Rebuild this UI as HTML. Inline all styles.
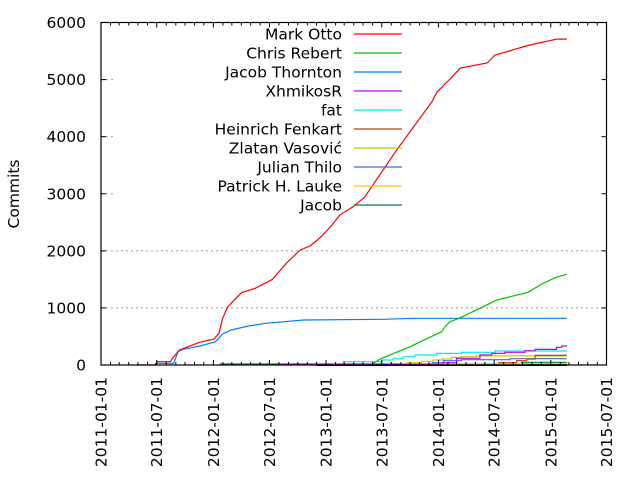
<!DOCTYPE html>
<html><head><meta charset="utf-8"><style>
html,body{margin:0;padding:0;background:#fff;}
svg{display:block;font-family:"DejaVu Sans","Liberation Sans",sans-serif;}
</style></head><body>
<svg id="chart" width="640" height="480" viewBox="0 0 640 480" xmlns="http://www.w3.org/2000/svg"></svg>
<script>
const yTicks = [0,1000,2000,3000,4000,5000,6000];
const xTickLabels = ["2011-01-01","2011-07-01","2012-01-01","2012-07-01","2013-01-01","2013-07-01","2014-01-01","2014-07-01","2015-01-01","2015-07-01"];
const seriesNames = ["Mark Otto","Chris Rebert","Jacob Thornton","XhmikosR","fat","Heinrich Fenkart","Zlatan Vasović","Julian Thilo","Patrick H. Lauke","Jacob"];
const seriesColors = ["#ff0000","#00c000","#0080ff","#c000ff","#00eeee","#c04000","#c8c800","#4169e1","#ffc020","#008040"];
const markDates = ["2011-04-26","2011-06-25","2011-07-02","2011-08-15","2011-08-21","2011-09-13","2011-10-11","2011-11-13","2012-01-03","2012-01-19","2012-01-31","2012-02-17","2012-04-01","2012-05-16","2012-07-11","2012-08-25","2012-10-09","2012-11-10","2012-12-04","2012-12-22","2013-01-20","2013-02-15","2013-03-29","2013-05-07","2013-08-19","2013-12-11","2013-12-27","2014-02-14","2014-03-12","2014-06-08","2014-07-04","2014-10-25","2015-01-21","2015-02-22"];
const markValues = [0,0,58,58,117,263,321,391,455,555,818,1021,1267,1343,1501,1781,2015,2085,2190,2280,2450,2630,2770,2945,3770,4610,4780,5045,5200,5290,5430,5605,5710,5710];
const chrisDates = ["2013-05-27","2013-07-01","2013-10-01","2013-12-15","2014-01-12","2014-01-22","2014-02-08","2014-03-09","2014-05-16","2014-07-10","2014-10-19","2014-12-03","2015-01-18","2015-02-22"];
const chrisValues = [10,117,321,513,583,671,759,818,993,1139,1273,1419,1536,1589];
const thorntonDates = ["2011-06-26","2011-08-25","2011-09-08","2011-09-24","2011-11-19","2012-01-08","2012-01-31","2012-02-28","2012-04-24","2012-06-19","2012-10-20","2013-07-05","2013-10-14","2015-02-22"];
const thorntonValues = [30,30,233,275,333,408,543,613,683,730,788,800,818,818];
const xhmDates = ["2012-08-13","2014-01-16","2014-03-01","2014-05-16","2014-06-23","2014-08-05","2014-10-09","2014-11-11","2015-01-20","2015-02-05","2015-02-22"];
const xhmValues = [8,40,117,175,204,222,251,274,310,333,333];
const fatDates = ["2013-02-04","2013-02-26","2013-07-01","2013-08-07","2013-09-09","2013-10-17","2013-12-26","2014-03-17","2014-07-04","2015-02-22"];
const fatValues = [10,58,88,117,146,175,204,222,245,245];
const heinrichDates = ["2014-07-14","2014-09-12","2014-10-15","2014-11-11","2015-02-22"];
const heinrichValues = [40,76,105,169,169];
const zlatanDates = ["2013-09-20","2013-11-08","2013-12-15","2014-01-12","2014-02-13","2014-03-17","2014-05-05","2015-02-22"];
const zlatanValues = [40,64,88,105,134,146,160,160];
const julianDates = ["2013-12-10","2014-01-17","2014-03-17","2014-08-22","2015-02-22"];
const julianValues = [40,76,93,111,111];
const patrickDates = ["2013-09-01","2014-01-01","2015-02-22"];
const patrickValues = [12,25,30];
const jacobDates = ["2012-01-22","2014-09-28","2015-02-22"];
const jacobValues = [18,47,47];
const otherDates = ["2012-12-01","2015-02-22"];
const otherValues = [3,3];

const L=101, R=606.5, T=22.5, B=365;
const d0=Date.UTC(2011,0,1), d1=Date.UTC(2015,6,1);
function dayMs(s){const p=s.split('-');return Date.UTC(+p[0],+p[1]-1,+p[2]);}
function xScale(s){return L+(dayMs(s)-d0)/(d1-d0)*(R-L);}
function yScale(v){return B-v/6000*(B-T);}
const NS="http://www.w3.org/2000/svg";
const svg=document.getElementById('chart');
function el(tag,attrs,parent){const e=document.createElementNS(NS,tag);for(const k in attrs)e.setAttribute(k,attrs[k]);(parent||svg).appendChild(e);return e;}

yTicks.forEach(v=>{if(v===0||v===6000)return;
 const g=el('line',{x1:L,x2:R,y1:yScale(v),y2:yScale(v),stroke:'#a0a0a0','stroke-width':1,'stroke-dasharray':'2,3'});
 
 
});
const kb=el('rect',{x:113,y:24,width:490,height:192,fill:'#fff'});



const allSeries=[[otherDates,otherValues,'#000000','others',true],[jacobDates,jacobValues,seriesColors[9],seriesNames[9],true],[patrickDates,patrickValues,seriesColors[8],seriesNames[8],true],[julianDates,julianValues,seriesColors[7],seriesNames[7],true],[zlatanDates,zlatanValues,seriesColors[6],seriesNames[6],true],[heinrichDates,heinrichValues,seriesColors[5],seriesNames[5],true],[fatDates,fatValues,seriesColors[4],seriesNames[4],true],[xhmDates,xhmValues,seriesColors[3],seriesNames[3],true],[thorntonDates,thorntonValues,seriesColors[2],seriesNames[2],false],[chrisDates,chrisValues,seriesColors[1],seriesNames[1],false],[markDates,markValues,seriesColors[0],seriesNames[0],false]];
allSeries.forEach(s=>{
 const ds=s[0],vs=s[1];let d='';
 for(let i=0;i<ds.length;i++){const x=xScale(ds[i]).toFixed(1),y=yScale(vs[i]).toFixed(1);
  if(i===0)d+='M'+x+','+y;else if(s[4])d+='H'+x+'V'+y;else d+='L'+x+','+y;}
 const p=el('path',{d:d,fill:'none',stroke:s[2],'stroke-width':s[3]==='others'?2.5:1.2});
 
 
});

const fr=el('rect',{x:L,y:T,width:R-L,height:B-T,fill:'none',stroke:'#000','stroke-width':1.2});



yTicks.forEach(v=>{const y=yScale(v);
 el('line',{x1:L,x2:L+5,y1:y,y2:y,stroke:'#000'});
 el('line',{x1:R-5,x2:R,y1:y,y2:y,stroke:'#000'});
 const t=el('text',{x:86,y:y+5.5,'text-anchor':'end','font-size':15.5,fill:'#000'});
 t.textContent=v;
 
 
});
for(let m=0;m<=54;m++){const yr=2011+Math.floor(m/12),mo=m%12;
 const s=yr+'-'+String(mo+1).padStart(2,'0')+'-01';const x=xScale(s);
 const len=(mo%6===0)?5:3;
 el('line',{x1:x,x2:x,y1:B,y2:B-len,stroke:'#000'});
 el('line',{x1:x,x2:x,y1:T,y2:T+len,stroke:'#000'});
}
xTickLabels.forEach(s=>{const x=xScale(s);
 const t=el('text',{x:0,y:0,'text-anchor':'end','font-size':15.5,fill:'#000',transform:'translate('+(x+5.5)+',377) rotate(-90)'});
 t.textContent=s;
 
 
});
const yt=el('text',{x:0,y:0,'text-anchor':'middle','font-size':15.5,fill:'#000',transform:'translate(19,194) rotate(-90)'});
yt.textContent='Commits';



seriesNames.forEach((n,i)=>{const y=34+i*19;
 const t=el('text',{x:342,y:y+5.5,'text-anchor':'end','font-size':15.5,fill:'#000'});
 t.textContent=n;
 
 
 const ln=el('line',{x1:354,x2:402,y1:y,y2:y,stroke:seriesColors[i],'stroke-width':1.2});
 
 
});
</script>
</body></html>
